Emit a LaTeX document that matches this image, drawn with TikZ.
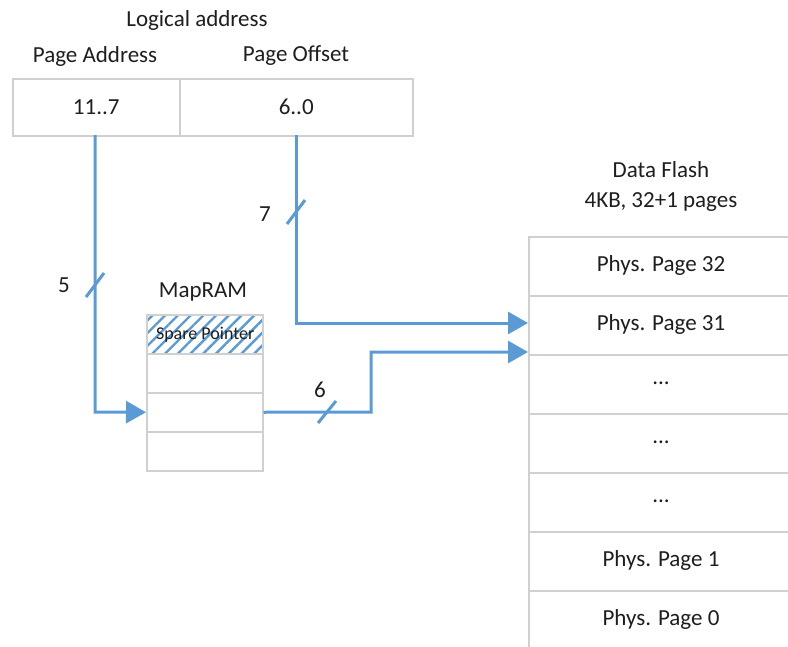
\documentclass[tikz,border=0pt]{standalone}
\usepackage{fontspec}
\setmainfont{Carlito}
\usetikzlibrary{arrows.meta,patterns.meta}
\definecolor{wire}{RGB}{91,155,213}
\definecolor{cellline}{RGB}{208,208,208}
\definecolor{ink}{RGB}{30,30,30}
\newcommand\threedots{...}
\tikzset{
  cell/.style={draw=cellline, line width=1.5pt, fill=white, inner sep=0pt, anchor=north west},
  wireline/.style={draw=wire, line width=3pt},
  wirearrow/.style={wireline, -{Triangle[length=20pt,width=22pt]}},
  bus/.style={draw=wire, line width=3pt},
  lbl/.style={font=\fontsize{23}{26}\selectfont, text=ink, inner sep=0pt},
}
\begin{document}
\begin{tikzpicture}[x=1pt,y=-1pt]
\useasboundingbox (0,0) rectangle (788,646);

% captions
\node[lbl] (logical) at (197,20) {Logical address};
\node[lbl] (pa) at (95,56) {Page Address};
\node[lbl] (po) at (296,56) {Page Offset};
\node[lbl] (df1) at (661,170) {Data Flash};
\node[lbl] (df2) at (661,202) {4KB, 32+1 pages};
\node[lbl] (mapram) at (203,292) {MapRAM};

% logical address register
\node[cell, minimum width=167pt, minimum height=57pt] (hi) at (12,78) {};
\node[cell, minimum width=233pt, minimum height=57pt] (lo) at (179,78) {};
\node[lbl] at (hi.center) {11..7};
\node[lbl] at (lo.center) {6..0};

% MapRAM table
\node[cell, minimum width=116pt, minimum height=39pt, pattern={Lines[angle=45,distance=9pt,line width=2.4pt]}, pattern color=wire] (m0) at (146,314) {};
\node[font=\fontsize{18}{20}\selectfont, text=ink, inner sep=0pt] at (m0.center) {Spare Pointer};
\node[cell, minimum width=116pt, minimum height=39pt] (m1) at (146,353) {};
\node[cell, minimum width=116pt, minimum height=39pt] (m2) at (146,392) {};
\node[cell, minimum width=116pt, minimum height=39pt] (m3) at (146,431) {};

% Data Flash table (runs past the right and bottom edges)
\foreach \i/\t in {0/Phys. Page 32,1/Phys. Page 31,2/\threedots,3/\threedots,4/\threedots,5/Phys. Page 1,6/Phys. Page 0} {
  \node[cell, minimum width=280pt, minimum height=59pt] (f\i) at (528,236+59*\i) {};
  \node[lbl] at (661,265.5+59*\i) {\t};
}

% page address -> MapRAM
\coordinate (a1) at (95,412);
\draw[wirearrow] (95,135) -- (a1) -- (m2.west);
\draw[bus] (86,297) -- (104,273);
\node[lbl] (n5) at (64,285) {5};

% page offset -> flash page
\coordinate (b1) at (296,323);
\draw[wirearrow] (296,135) -- (b1) -- (528,323);
\draw[bus] (287,224) -- (305,200);
\node[lbl] (n7) at (265,214) {7};

% MapRAM -> flash page base
\coordinate (c1) at (371,412);
\coordinate (c2) at (371,352);
\draw[wirearrow] (m2.east) -- (c1) -- (c2) -- (528,352);
\draw[bus] (318,423) -- (336,401);
\node[lbl] (n6) at (320,390) {6};
\end{tikzpicture}
\end{document}
